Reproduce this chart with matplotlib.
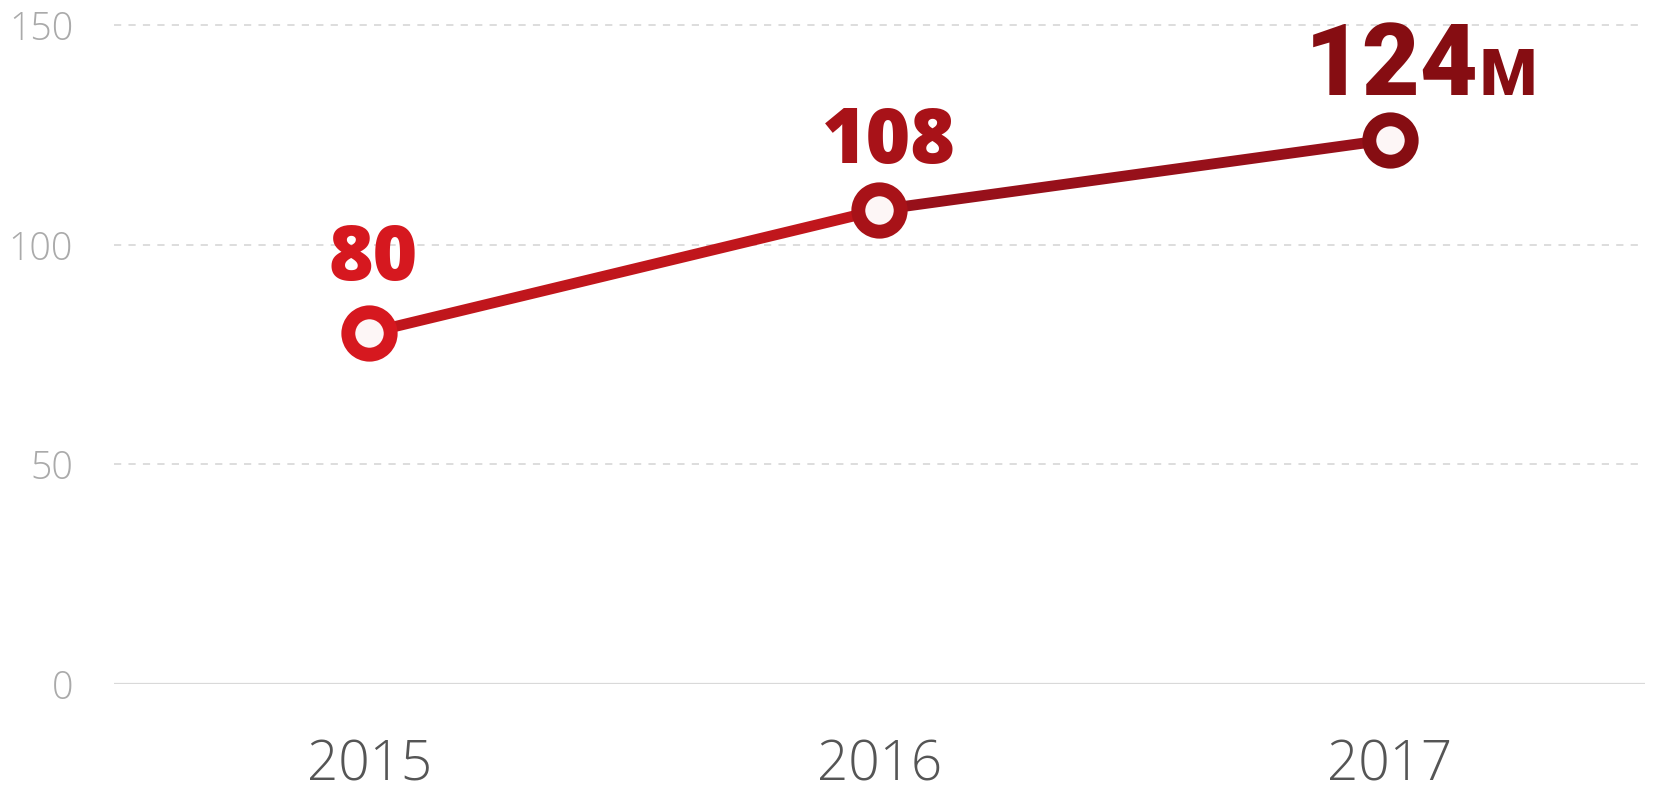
import matplotlib
matplotlib.use("Agg")
import matplotlib.pyplot as plt
from matplotlib.collections import LineCollection
import numpy as np

years = ["2015", "2016", "2017"]
values = [80, 108, 124]
point_colors = ["#d6181f", "#a81218", "#860d12"]
yticks = [0, 50, 100, 150]

fig = plt.figure(figsize=(16.53, 7.93), dpi=100)
ax = fig.add_axes([0.069, 0.1374, 0.926, 0.8306])

x = np.arange(len(years))
ax.set_xlim(-0.5, 2.5)
ax.set_ylim(0, 150)

# grid
for t in yticks[1:]:
    ax.axhline(t, color="#dadada", lw=1.3, ls=(0, (4, 4)), zorder=0, clip_on=False)
ax.axhline(0, color="#d9d9d9", lw=1.6, zorder=0)

# line, one colour per segment
segs = [[(x[i], values[i]), (x[i + 1], values[i + 1])] for i in range(len(x) - 1)]
lc = LineCollection(segs, colors=["#c0161c", "#97101a"], linewidths=7.8,
                    capstyle="round", zorder=2)
ax.add_collection(lc)

for xi, v, c in zip(x, values, point_colors):
    ax.plot(xi, v, marker="o", ms=30.5, mew=10, mec=c, mfc="#fdf6f6",
            zorder=3, clip_on=False)

# data labels
ax.annotate("80", (x[0], values[0]), xytext=(3, 38), textcoords="offset points",
            ha="center", va="baseline", fontsize=55, fontweight="heavy",
            color=point_colors[0], family="Open Sans")
ax.annotate("108", (x[1], values[1]), xytext=(7, 34), textcoords="offset points",
            ha="center", va="baseline", fontsize=55, fontweight="heavy",
            color=point_colors[1], family="Open Sans")
ax.annotate("124", (x[2], values[2]), xytext=(-61, 32), textcoords="offset points",
            ha="left", va="baseline", fontsize=72, fontweight="black",
            color=point_colors[2], family="Roboto")
ax.annotate("M", (x[2], values[2]), xytext=(65, 32), textcoords="offset points",
            ha="left", va="baseline", fontsize=47, fontweight="black",
            color=point_colors[2], family="Roboto")

ax.set_xticks(x)
ax.set_xticklabels(years, fontsize=39.5, color="#555555", family="Open Sans",
                   fontweight="light")
ax.set_yticks(yticks)
ax.set_yticklabels([str(t) for t in yticks], fontsize=27, color="#aaaaaa",
                   family="Open Sans", fontweight="light")
ax.tick_params(axis="both", length=0)
ax.tick_params(axis="x", pad=39)
ax.tick_params(axis="y", pad=29.5)
for s in ax.spines.values():
    s.set_visible(False)

fig.savefig("out.png", dpi=100)
